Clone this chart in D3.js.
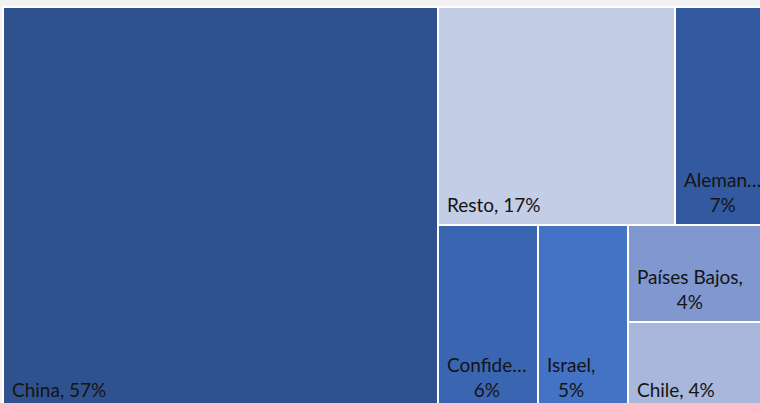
<!DOCTYPE html>
<html>
<head>
<meta charset="utf-8">
<script src="https://cdn.jsdelivr.net/npm/d3@7"></script>
<style>
  html, body { margin: 0; padding: 0; background: #f2f2f2; overflow: hidden; }
  svg { display: block; }
</style>
</head>
<body>
<svg id="chart"></svg>
<script>
// shares (%), labels show them rounded
let names = ["China", "Resto", "Alemania", "Confidencial", "Israel", "Países Bajos", "Chile"];
let values = [57.1, 16.8, 6.5, 6.0, 5.4, 4.4, 4.0];
let colors = ["#2f528f", "#c3cde6", "#335aa1", "#3a66b1", "#4472c4", "#8097cf", "#a9b7dc"];

// how Excel grouped the tiles: China | (Resto, Alemania) / (Confidencial, Israel, Países Bajos / Chile)
let groups = [0, [[1, 2], [3, 4, [5, 6]]]];

let width = 760, height = 403;
let box = {x: 4, y: 8, w: 762, h: 401};

let svg = d3.select("#chart")
    .attr("width", width)
    .attr("height", height);

function buildNode(g) {
    if (Array.isArray(g)) {
        return {children: g.map(buildNode)};
    }
    return {name: names[g], value: values[g], color: colors[g]};
}

let root = d3.hierarchy(buildNode(groups))
    .sum(function (d) { return d.value || 0; });

d3.treemap()
    .tile(d3.treemapSliceDice)
    .size([box.w, box.h])
    .paddingInner(2)
    .round(true)(root);

// white frame behind the tiles
svg.append("rect")
    .attr("x", box.x - 2)
    .attr("y", box.y - 2)
    .attr("width", box.w + 4)
    .attr("height", box.h + 4)
    .attr("fill", "#ffffff");

let g = svg.append("g")
    .attr("transform", "translate(" + box.x + "," + box.y + ")");

let leaves = root.leaves();

g.selectAll("rect.tile")
    .data(leaves)
    .enter().append("rect")
    .attr("class", "tile")
    .attr("x", function (d) { return d.x0; })
    .attr("y", function (d) { return d.y0; })
    .attr("width", function (d) { return d.x1 - d.x0; })
    .attr("height", function (d) { return d.y1 - d.y0; })
    .attr("fill", function (d) { return d.data.color; });

let fontSize = 19;
let lineH = 25;
let pad = 8;
let fontFamily = "Lato, 'Open Sans', sans-serif";

let measurer = g.append("text")
    .style("font-family", fontFamily)
    .style("font-size", fontSize + "px")
    .attr("visibility", "hidden");

function textWidth(s) {
    measurer.text(s);
    return measurer.node().getComputedTextLength();
}

function truncate(s, maxW) {
    if (textWidth(s) <= maxW) return s;
    let t = s;
    while (t.length > 1 && textWidth(t + "…") > maxW) {
        t = t.slice(0, -1);
    }
    return t.replace(/[,\s]+$/, "") + "…";
}

leaves.forEach(function (d) {
    let avail = d.x1 - d.x0 - 2 * pad + 4;
    let pct = Math.round(d.data.value) + "%";
    let full = d.data.name + ", " + pct;
    let lines;
    if (textWidth(full) <= avail) {
        lines = [full];
    } else {
        lines = [truncate(d.data.name + ",", avail), pct];
    }
    let blockW = d3.max(lines, textWidth);
    let bottom = d.y1 - 12;
    let label = g.append("text")
        .style("font-family", fontFamily)
        .style("font-size", fontSize + "px")
        .attr("fill", "#141414");
    lines.forEach(function (line, i) {
        label.append("tspan")
            .attr("x", lines.length === 1 ? d.x0 + pad : d.x0 + pad + blockW / 2)
            .attr("y", bottom - (lines.length - 1 - i) * lineH)
            .attr("text-anchor", lines.length === 1 ? "start" : "middle")
            .text(line);
    });
});
measurer.remove();
</script>
</body>
</html>
